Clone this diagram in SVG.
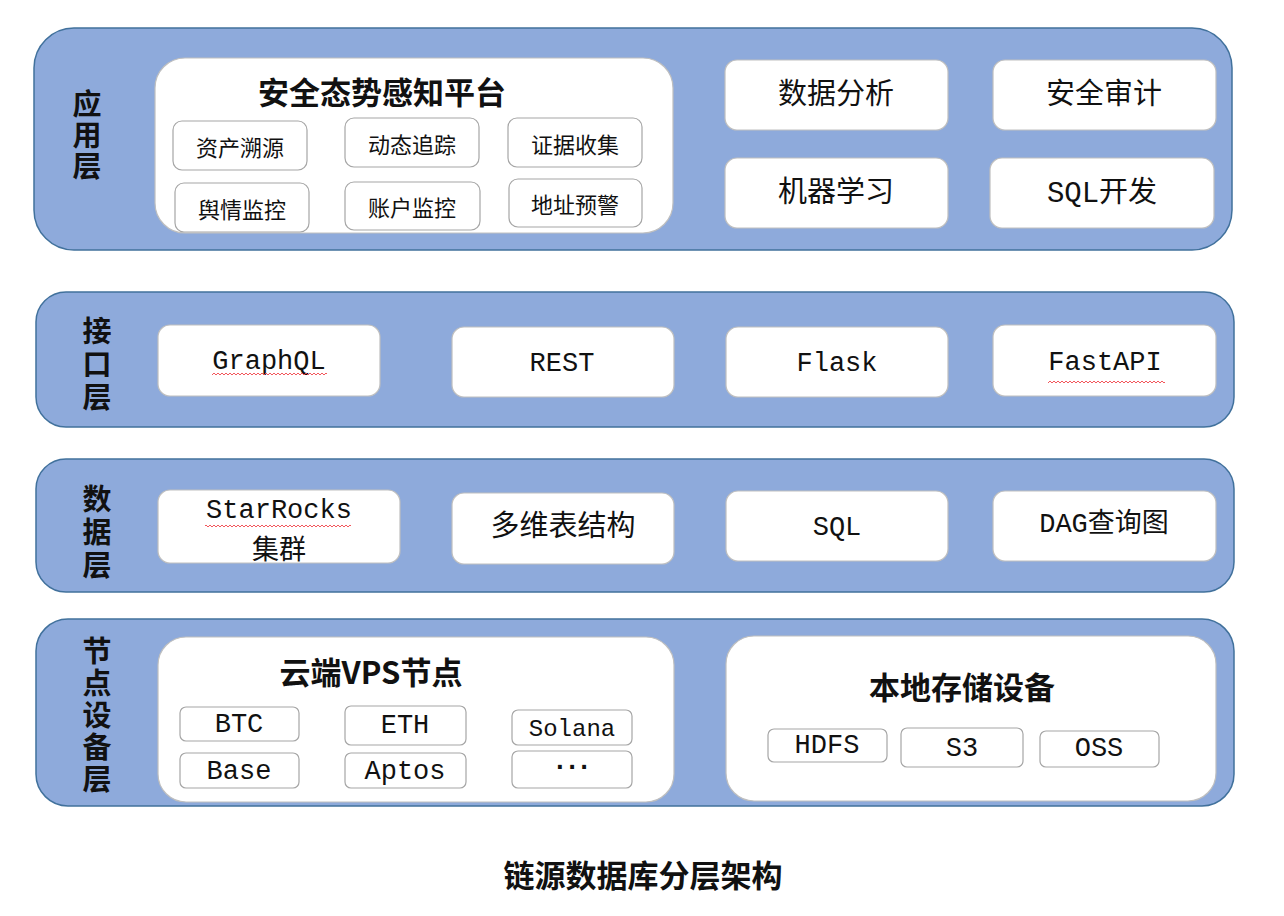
<svg xmlns="http://www.w3.org/2000/svg" width="1284" height="916" viewBox="0 0 1284 916">
<defs>
<style>
.layer{fill:#8EAADB;stroke:#41719C;stroke-width:1.5}
.panel{fill:#FFFFFF;stroke:#BFBFBF;stroke-width:1.2}
.box{fill:#FFFFFF;stroke:#BFBFBF;stroke-width:1.2}
.sbox{fill:#FFFFFF;stroke:#A6A6A6;stroke-width:1.2}
text{font-family:"Liberation Mono","Noto Sans CJK SC",monospace;fill:#111;text-anchor:middle;dominant-baseline:central}
.ll{font-family:"Noto Sans CJK SC",sans-serif;font-size:29px;font-weight:700;writing-mode:vertical-rl}
.title{font-family:"Noto Sans CJK SC",sans-serif;font-size:31px;font-weight:700}
.big{font-size:29px}
.mid{font-size:27px}
.sm{font-family:"Noto Sans CJK SC",sans-serif;font-size:22px}
.cap{font-family:"Noto Sans CJK SC",sans-serif;font-size:31px;font-weight:700}
</style>
<pattern id="wave" width="4" height="4" patternUnits="userSpaceOnUse">
<path d="M0,3 L2,1 L4,3" fill="none" stroke="#F0444A" stroke-width="0.9"/>
</pattern>
</defs>
<rect width="1284" height="916" fill="#FFFFFF"/>

<g id="layer-app">
<rect class="layer" x="34" y="28" width="1198" height="222" rx="40"/>
<text class="ll" x="87" y="136" letter-spacing="2">应用层</text>
</g>
<g id="platform">
<rect class="panel" x="155" y="58" width="518" height="175" rx="30"/>
<text class="title" x="382" y="90">安全态势感知平台</text>
</g>
<g id="n-zcsy"><rect class="sbox" x="173" y="121" width="134" height="49" rx="9"/><text class="sm" x="240" y="146">资产溯源</text></g>
<g id="n-dtzz"><rect class="sbox" x="345" y="118" width="134" height="49" rx="9"/><text class="sm" x="412" y="143">动态追踪</text></g>
<g id="n-zjsj"><rect class="sbox" x="508" y="118" width="134" height="49" rx="9"/><text class="sm" x="575" y="143">证据收集</text></g>
<g id="n-yqjk"><rect class="sbox" x="175" y="183" width="134" height="49" rx="9"/><text class="sm" x="242" y="208">舆情监控</text></g>
<g id="n-zhjk"><rect class="sbox" x="345" y="182" width="135" height="48" rx="9"/><text class="sm" x="412" y="206">账户监控</text></g>
<g id="n-dzyj"><rect class="sbox" x="509" y="179" width="133" height="48" rx="9"/><text class="sm" x="575" y="203">地址预警</text></g>
<g id="n-sjfx"><rect class="box" x="725" y="60" width="223" height="70" rx="12"/><text class="big" x="836" y="96">数据分析</text></g>
<g id="n-aqsj"><rect class="box" x="993" y="60" width="223" height="70" rx="12"/><text class="big" x="1104" y="96">安全审计</text></g>
<g id="n-jqxx"><rect class="box" x="725" y="158" width="223" height="70" rx="12"/><text class="big" x="836" y="194">机器学习</text></g>
<g id="n-sqlkf"><rect class="box" x="990" y="158" width="224" height="70" rx="12"/><text class="big" x="1102" y="194">SQL开发</text></g>

<g id="layer-api">
<rect class="layer" x="36" y="292" width="1198" height="135" rx="30"/>
<text class="ll" x="97" y="366" letter-spacing="4">接口层</text>
</g>
<g id="n-graphql"><rect class="box" x="158" y="325" width="222" height="71" rx="12"/><text class="mid" x="269" y="362">GraphQL</text><rect x="212" y="371" width="115" height="4" fill="url(#wave)"/></g>
<g id="n-rest"><rect class="box" x="452" y="327" width="222" height="70" rx="12"/><text class="mid" x="562" y="364">REST</text></g>
<g id="n-flask"><rect class="box" x="726" y="327" width="222" height="70" rx="12"/><text class="mid" x="837" y="364">Flask</text></g>
<g id="n-fastapi"><rect class="box" x="993" y="325" width="223" height="71" rx="12"/><text class="mid" x="1105" y="363">FastAPI</text><rect x="1048" y="379" width="117" height="4" fill="url(#wave)"/></g>

<g id="layer-data">
<rect class="layer" x="36" y="459" width="1198" height="133" rx="30"/>
<text class="ll" x="97" y="534" letter-spacing="4">数据层</text>
</g>
<g id="n-starrocks"><rect class="box" x="158" y="490" width="242" height="73" rx="12"/><text class="mid" x="279" y="511">StarRocks</text><rect x="205" y="524" width="146" height="4" fill="url(#wave)"/><text class="sm" style="font-size:27px" x="279" y="547">集群</text></g>
<g id="n-dwbjg"><rect class="box" x="452" y="493" width="222" height="71" rx="12"/><text class="big" x="563" y="528">多维表结构</text></g>
<g id="n-sql"><rect class="box" x="726" y="491" width="222" height="70" rx="12"/><text class="mid" x="837" y="528">SQL</text></g>
<g id="n-dag"><rect class="box" x="993" y="491" width="223" height="70" rx="12"/><text class="mid" x="1104" y="525">DAG查询图</text></g>

<g id="layer-node">
<rect class="layer" x="36" y="619" width="1198" height="187" rx="32"/>
<text class="ll" x="97" y="716" letter-spacing="3">节点设备层</text>
</g>
<g id="cloud">
<rect class="panel" x="158" y="637" width="516" height="165" rx="28"/>
<text class="title" x="371" y="670">云端VPS节点</text>
</g>
<g id="n-btc"><rect class="sbox" x="180" y="707" width="119" height="34" rx="6"/><text class="mid" x="239" y="725">BTC</text></g>
<g id="n-eth"><rect class="sbox" x="345" y="706" width="121" height="39" rx="6"/><text class="mid" x="405" y="726">ETH</text></g>
<g id="n-solana"><rect class="sbox" x="512" y="710" width="120" height="35" rx="6"/><text class="mid" style="font-size:24px" x="572" y="729">Solana</text></g>
<g id="n-base"><rect class="sbox" x="180" y="753" width="119" height="35" rx="6"/><text class="mid" x="239" y="772">Base</text></g>
<g id="n-aptos"><rect class="sbox" x="345" y="753" width="121" height="35" rx="6"/><text class="mid" x="405" y="772">Aptos</text></g>
<g id="n-more"><rect class="sbox" x="512" y="751" width="120" height="37" rx="6"/><text class="mid" style="font-weight:700;letter-spacing:-4px" x="570" y="768">···</text></g>
<g id="local">
<rect class="panel" x="726" y="636" width="490" height="165" rx="28"/>
<text class="title" x="962" y="685">本地存储设备</text>
</g>
<g id="n-hdfs"><rect class="sbox" x="768" y="729" width="119" height="33" rx="6"/><text class="mid" x="827" y="746">HDFS</text></g>
<g id="n-s3"><rect class="sbox" x="901" y="728" width="122" height="39" rx="6"/><text class="mid" x="962" y="749">S3</text></g>
<g id="n-oss"><rect class="sbox" x="1040" y="731" width="119" height="36" rx="6"/><text class="mid" x="1099" y="749">OSS</text></g>

<g id="connectors"></g>

<text class="cap" x="643" y="873">链源数据库分层架构</text>
</svg>
